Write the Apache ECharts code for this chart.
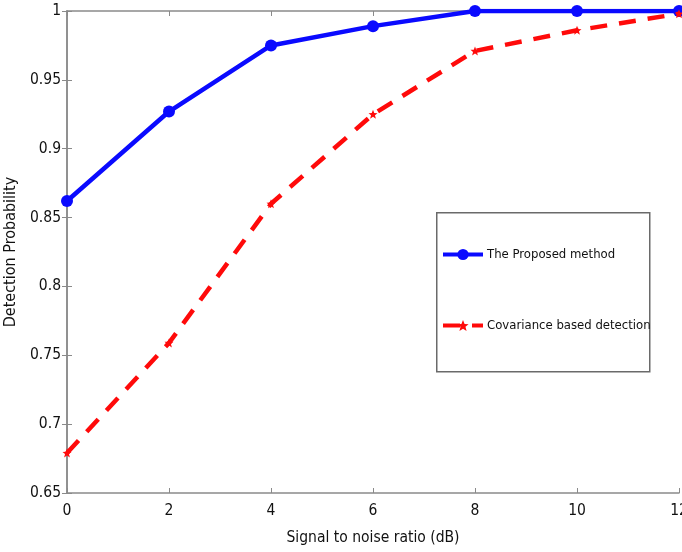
<!DOCTYPE html>
<html>
<head>
<meta charset="utf-8">
<script src="https://cdn.jsdelivr.net/npm/echarts@6/dist/echarts.min.js"></script>
<style>
  html, body { margin: 0; padding: 0; background: #fff; }
  #chart { width: 682px; height: 552px; }
</style>
</head>
<body>
<div id="chart"></div>
<script>
// SNR values (dB) and detection probabilities for both detectors
const snrDb = [0, 2, 4, 6, 8, 10, 12];
const proposed = [0.862, 0.927, 0.975, 0.989, 1.0, 1.0, 1.0];
const covariance = [0.679, 0.759, 0.860, 0.925, 0.971, 0.986, 0.998];
const seriesNames = ['The Proposed method', 'Covariance based detection'];
const xTicks = [0, 2, 4, 6, 8, 10, 12];
const yTicks = [0.65, 0.7, 0.75, 0.8, 0.85, 0.9, 0.95, 1];

const FONT = '"DejaVu Sans Condensed", "Liberation Sans Narrow", sans-serif';
const AXIS_GREY = '#8a8a8a';
const TEXT = '#111111';
const BLUE = '#0a0aff';
const RED = '#ff0a0a';

const pairs = (xs, ys) => xs.map((x, i) => [x, ys[i]]);
const starPath = 'path://M0,-5 L1.4,-1.4 L5,-1.2 L2.2,1.1 L3.2,5 L0,2.8 L-3.2,5 L-2.2,1.1 L-5,-1.2 L-1.4,-1.4 Z';

const boxAxis = {
  axisLine: { show: true, lineStyle: { color: AXIS_GREY, width: 1.5 } },
  axisTick: { show: true, inside: true, length: 5, lineStyle: { color: AXIS_GREY, width: 1 } },
  splitLine: { show: false }
};

const chart = echarts.init(document.getElementById('chart'), null, { renderer: 'canvas' });
chart.setOption({
  animation: false,
  backgroundColor: '#ffffff',
  grid: { left: 67, right: 3, top: 11, bottom: 59, containLabel: false, outerBoundsMode: 'none' },
  xAxis: [
    Object.assign({
      type: 'value', min: 0, max: 12, interval: 2, position: 'bottom',
      name: 'Signal to noise ratio (dB)', nameLocation: 'middle', nameGap: 37,
      nameTextStyle: { fontFamily: FONT, fontSize: 15.5, color: TEXT },
      axisLabel: {
        fontFamily: FONT, fontSize: 15.5, color: TEXT, margin: 10,
        formatter: v => (xTicks.includes(v) ? String(v) : '')
      }
    }, boxAxis),
    Object.assign({
      type: 'value', min: 0, max: 12, interval: 2, position: 'top',
      axisLabel: { show: false }
    }, boxAxis)
  ],
  yAxis: [
    Object.assign({
      type: 'value', min: 0.65, max: 1, interval: 0.05, position: 'left',
      name: 'Detection Probability', nameLocation: 'middle', nameGap: 46,
      nameTextStyle: { fontFamily: FONT, fontSize: 16, color: TEXT },
      axisLabel: {
        fontFamily: FONT, fontSize: 15.5, color: TEXT, margin: 6,
        formatter: v => {
          const t = yTicks.find(y => Math.abs(y - v) < 1e-6);
          return t === undefined ? '' : String(t);
        }
      }
    }, boxAxis),
    Object.assign({
      type: 'value', min: 0.65, max: 1, interval: 0.05, position: 'right',
      axisLabel: { show: false }
    }, boxAxis)
  ],
  // legend frame
  graphic: [{
    type: 'rect', left: 436, top: 212, z: 10,
    shape: { width: 213, height: 159 },
    style: { fill: '#ffffff', stroke: '#6a6a6a', lineWidth: 1.5 }
  }],
  legend: {
    orient: 'vertical',
    left: 441, top: 248,
    padding: 0,
    itemGap: 58,
    itemWidth: 40,
    itemHeight: 14,
    z: 20,
    textStyle: { fontFamily: FONT, fontSize: 13, color: TEXT, padding: [0, 0, 0, -1] },
    data: [
      { name: seriesNames[0], lineStyle: { width: 4 } },
      { name: seriesNames[1], lineStyle: { width: 4 } }
    ]
  },
  series: [
    {
      name: seriesNames[0], type: 'line',
      data: pairs(snrDb, proposed),
      color: BLUE,
      lineStyle: { width: 4.5, color: BLUE },
      symbol: 'circle', symbolSize: 12,
      itemStyle: { color: BLUE },
      z: 3
    },
    {
      name: seriesNames[1], type: 'line',
      data: pairs(snrDb, covariance),
      color: RED,
      lineStyle: { width: 4.5, color: RED, type: [17, 12] },
      symbol: starPath, symbolSize: 9,
      itemStyle: { color: RED },
      z: 4
    }
  ]
});
</script>
</body>
</html>
